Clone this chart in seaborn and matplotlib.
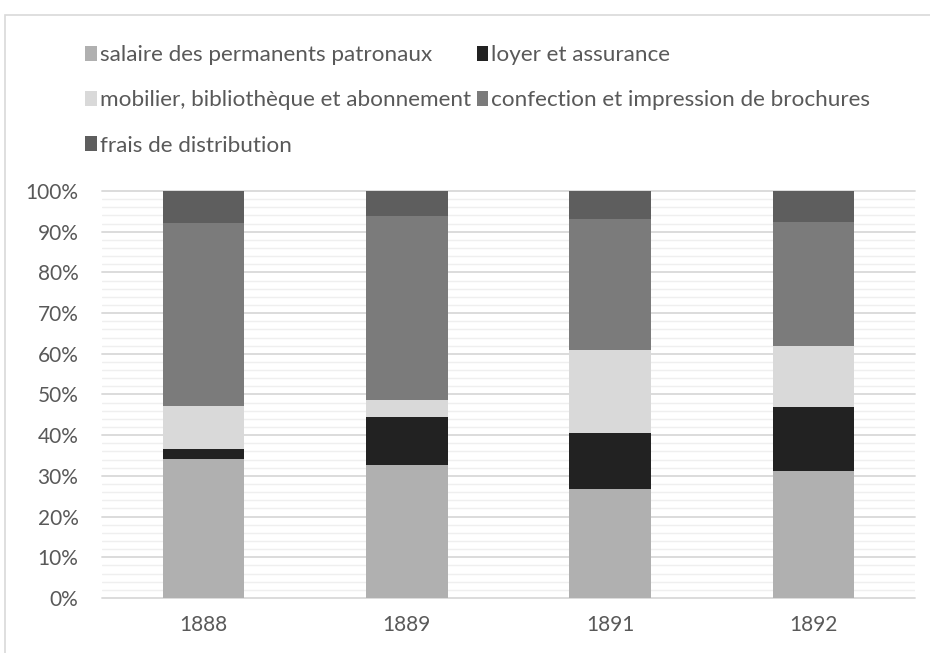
import numpy as np
import pandas as pd
import seaborn as sns
import matplotlib.pyplot as plt
from matplotlib.patches import Patch, Rectangle
from matplotlib.ticker import MultipleLocator, PercentFormatter


years = ["1888", "1889", "1891", "1892"]
categories = [
    "salaire des permanents patronaux",
    "loyer et assurance",
    "mobilier, bibliothèque et abonnement",
    "confection et impression de brochures",
    "frais de distribution",
]
# parts in %
salaire = [34.2, 32.7, 26.8, 31.3]
loyer = [2.4, 11.8, 13.7, 15.6]
mobilier = [10.6, 4.2, 20.4, 15.1]
confection = [44.9, 45.2, 32.1, 30.3]
frais = [7.9, 6.1, 7.0, 7.7]
colors = ["#b0b0b0", "#222222", "#d9d9d9", "#7b7b7b", "#5e5e5e"]

series = [salaire, loyer, mobilier, confection, frais]
df = pd.DataFrame({c: s for c, s in zip(categories, series)}, index=years)
df = df.div(df.sum(axis=1), axis=0)
cum = df.cumsum(axis=1)

sns.set_style("white")
plt.rcParams["font.family"] = ["Lato", "DejaVu Sans"]

fig = plt.figure(figsize=(9.3, 6.53), dpi=100)
ax = fig.add_axes([102 / 930, 1 - 598 / 653, 813 / 930, 407 / 653])

# stacked bars: draw cumulative tops from the last layer down
for cat, col in reversed(list(zip(categories, colors))):
    sns.barplot(x=years, y=cum[cat].values, color=col, width=0.4,
                saturation=1, ax=ax, zorder=3, linewidth=0)

ax.set_ylim(0, 1)
ax.set_xlim(-0.5, 3.5)
ax.yaxis.set_major_locator(MultipleLocator(0.1))
ax.yaxis.set_minor_locator(MultipleLocator(0.02))
ax.yaxis.set_major_formatter(PercentFormatter(1.0, decimals=0))
ax.grid(axis="y", which="minor", color="#efefef", lw=1.0, zorder=0)
ax.grid(axis="y", which="major", color="#d9d9d9", lw=1.3, zorder=1)
for ln in ax.get_ygridlines():
    ln.set_clip_on(False)
sns.despine(ax=ax, left=True, bottom=True)
ax.tick_params(axis="both", length=0, labelsize=15, labelcolor="#595959")
ax.tick_params(axis="x", pad=12)
ax.tick_params(axis="y", pad=17)
ax.set_xlabel("")
ax.set_ylabel("")

handles = [Patch(facecolor=c, edgecolor="none") for c in colors]
order = [0, 2, 4, 1, 3]
fig.legend([handles[i] for i in order], [categories[i] for i in order],
           ncol=2, loc="upper left", bbox_to_anchor=(74 / 930, 1 - 34 / 653),
           frameon=False, fontsize=16.2, labelcolor="#595959",
           handlelength=0.5, handleheight=0.65, handletextpad=0.15,
           labelspacing=1.12, columnspacing=0.25, borderpad=0)

fig.patches.append(Rectangle((5 / 930, -0.1), 1.2, 1.1 - 15 / 653,
                             transform=fig.transFigure, fill=False,
                             edgecolor="#d9d9d9", lw=1.2))

plt.savefig("out.png", dpi=100)
plt.close()
